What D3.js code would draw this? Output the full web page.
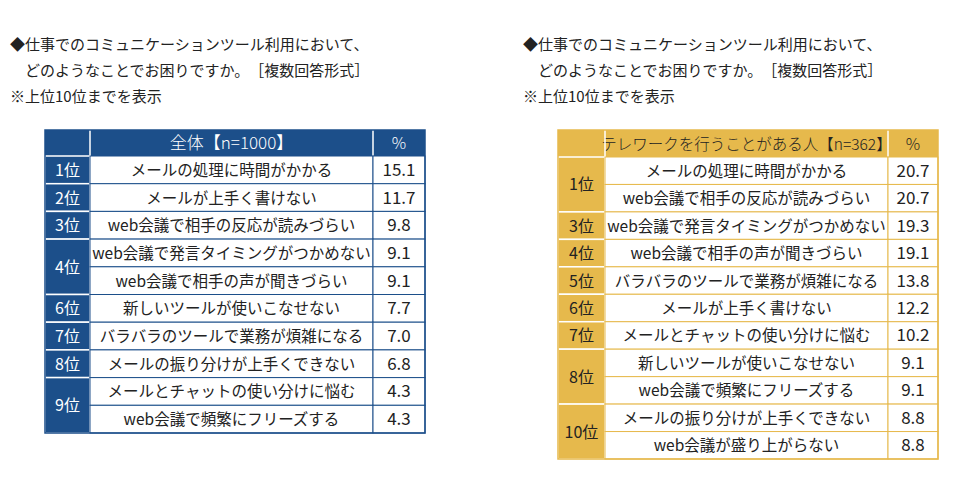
<!DOCTYPE html>
<html><head><meta charset="utf-8">
<script src="https://cdn.jsdelivr.net/npm/d3@7"></script>
<style>body{margin:0;background:#fff;font-family:"Noto Sans CJK JP","Noto Sans",sans-serif;}</style>
</head><body><svg id="c" width="963" height="483"></svg>
<script>
// left table: all respondents
const leftItems = ['メールの処理に時間がかかる','メールが上手く書けない','web会議で相手の反応が読みづらい','web会議で発言タイミングがつかめない','web会議で相手の声が聞きづらい','新しいツールが使いこなせない','バラバラのツールで業務が煩雑になる','メールの振り分けが上手くできない','メールとチャットの使い分けに悩む','web会議で頻繁にフリーズする'];
const leftValues = [15.1, 11.7, 9.8, 9.1, 9.1, 7.7, 7.0, 6.8, 4.3, 4.3];
const leftRanks = [[1,0,1],[2,1,1],[3,2,1],[4,3,2],[6,5,1],[7,6,1],[8,7,1],[9,8,2]]; // rank, first row, span

// right table: teleworkers
const rightItems = ['メールの処理に時間がかかる','web会議で相手の反応が読みづらい','web会議で発言タイミングがつかめない','web会議で相手の声が聞きづらい','バラバラのツールで業務が煩雑になる','メールが上手く書けない','メールとチャットの使い分けに悩む','新しいツールが使いこなせない','web会議で頻繁にフリーズする','メールの振り分けが上手くできない','web会議が盛り上がらない'];
const rightValues = [20.7, 20.7, 19.3, 19.1, 13.8, 12.2, 10.2, 9.1, 9.1, 8.8, 8.8];
const rightRanks = [[1,0,2],[3,2,1],[4,3,1],[5,4,1],[6,5,1],[7,6,1],[8,7,2],[10,9,2]];

const titleLines = ['◆仕事でのコミュニケーションツール利用において、','　どのようなことでお困りですか。　［複数回答形式］','※上位10位までを表示'];

const svg = d3.select('#c');

function drawTable(o) {
  const g = svg.append('g');
  titleLines.forEach((t, i) => g.append('text').attr('x', o.tx).attr('y', 50 + i * 26)
    .attr('font-size', 15).attr('fill', '#222').text(t));

  const y = d3.scaleBand().domain(d3.range(o.items.length)).range([o.top, o.bottom]);
  const c = o.cols; // rank, item, pct boundaries
  // header
  g.append('rect').attr('x', c[0]).attr('y', o.htop).attr('width', c[3]-c[0]).attr('height', o.top-o.htop).attr('fill', o.color);
  g.append('text').attr('x', (c[1]+c[2])/2).attr('y', (o.htop+o.top)/2+6).attr('text-anchor','middle')
    .attr('font-size', o.hsize).attr('font-weight', 300).attr('fill', o.htext).text(o.header);
  g.append('text').attr('x', (c[2]+c[3])/2).attr('y', (o.htop+o.top)/2+6).attr('text-anchor','middle')
    .attr('font-size', 16).attr('font-weight', 300).attr('fill', o.htext).text('%');
  g.append('line').attr('x1',c[1]).attr('x2',c[1]).attr('y1',o.htop).attr('y2',o.top).attr('stroke','#fff').attr('stroke-width',1.5);
  g.append('line').attr('x1',c[2]).attr('x2',c[2]).attr('y1',o.htop).attr('y2',o.top).attr('stroke','#fff').attr('stroke-width',1.5);

  // rank cells
  o.ranks.forEach(([r, s, n]) => {
    const y0 = y(s), h = y.bandwidth() * n;
    g.append('rect').attr('x', c[0]).attr('y', y0).attr('width', c[1]-c[0]).attr('height', h)
      .attr('fill', o.color).attr('stroke', '#fff').attr('stroke-width', 1.5);
    g.append('text').attr('x', (c[0]+c[1])/2).attr('y', y0 + h/2 + 6).attr('text-anchor','middle')
      .attr('font-size', 16).attr('fill', o.rtext).text(r + '位');
  });
  // rows
  const rows = g.selectAll('g.row').data(o.items).enter().append('g');
  rows.append('rect').attr('x', c[1]).attr('y', (d,i) => y(i)).attr('width', c[2]-c[1]).attr('height', y.bandwidth())
    .attr('fill', '#fff').attr('stroke', o.color).attr('stroke-width', 1);
  rows.append('rect').attr('x', c[2]).attr('y', (d,i) => y(i)).attr('width', c[3]-c[2]).attr('height', y.bandwidth())
    .attr('fill', '#fff').attr('stroke', o.color).attr('stroke-width', 1);
  rows.append('text').attr('x', (c[1]+c[2])/2).attr('y', (d,i) => y(i) + y.bandwidth()/2 + 6)
    .attr('text-anchor','middle').attr('font-size', 15.5).attr('fill','#222').text(d => d);
  rows.append('text').attr('x', (c[2]+c[3])/2).attr('y', (d,i) => y(i) + y.bandwidth()/2 + 6)
    .attr('text-anchor','middle').attr('font-size', 17).attr('fill','#222').text((d,i) => o.values[i].toFixed(1));
  g.append('rect').attr('x', c[0]).attr('y', o.htop).attr('width', c[3]-c[0]).attr('height', o.bottom-o.htop)
    .attr('fill','none').attr('stroke', o.color).attr('stroke-width', 1.5);
}

drawTable({tx: 10, items: leftItems, values: leftValues, ranks: leftRanks, header: '全体【n=1000】', hsize: 17,
  color: '#1c4f8a', htext: '#fff', rtext: '#fff', cols: [45, 90, 373, 425], htop: 130, top: 156, bottom: 433});
drawTable({tx: 523, items: rightItems, values: rightValues, ranks: rightRanks, header: 'テレワークを行うことがある人【n=362】', hsize: 15.5,
  color: '#e6b94c', htext: '#222', rtext: '#222', cols: [558, 605, 888, 938], htop: 130, top: 157, bottom: 459});
</script></body></html>
